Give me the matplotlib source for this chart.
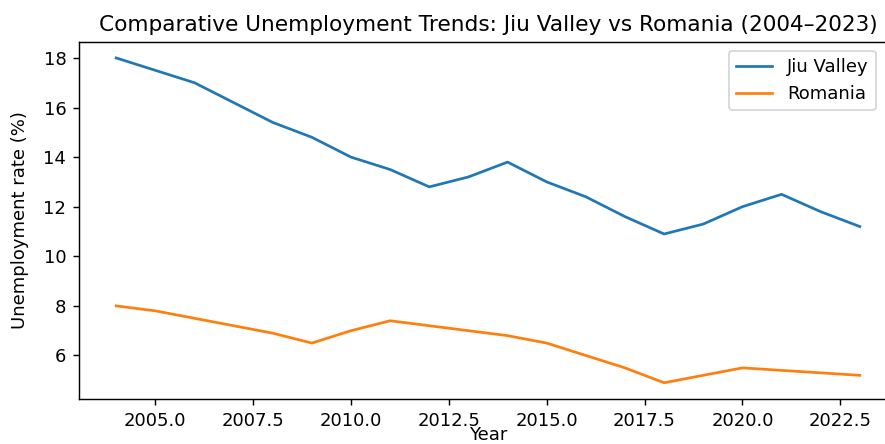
import matplotlib
matplotlib.use("Agg")
import matplotlib.pyplot as plt

years = list(range(2004, 2024))
jiu_valley = [18.0, 17.5, 17.0, 16.2, 15.4, 14.8, 14.0, 13.5, 12.8, 13.2,
              13.8, 13.0, 12.4, 11.6, 10.9, 11.3, 12.0, 12.5, 11.8, 11.2]
romania = [8.0, 7.8, 7.5, 7.2, 6.9, 6.5, 7.0, 7.4, 7.2, 7.0,
           6.8, 6.5, 6.0, 5.5, 4.9, 5.2, 5.5, 5.4, 5.3, 5.2]

W, H, DPI = 885, 444, 130
fig = plt.figure(figsize=(W / DPI, H / DPI))
# the reference is cropped: right spine runs off the edge
ax = fig.add_axes([79 / W, 1 - 399 / H, (897 - 79) / W, (399 - 41.7) / H])
ax.plot(years, jiu_valley, label="Jiu Valley")
ax.plot(years, romania, label="Romania")
ax.set_title("Comparative Unemployment Trends: Jiu Valley vs Romania (2004\u20132023)")
ax.set_xlabel("Year", labelpad=-2)
ax.set_ylabel("Unemployment rate (%)", labelpad=8)
ax.legend(loc="upper right", bbox_to_anchor=(0.985, 1.0))

fig.savefig("out.png", dpi=DPI)
